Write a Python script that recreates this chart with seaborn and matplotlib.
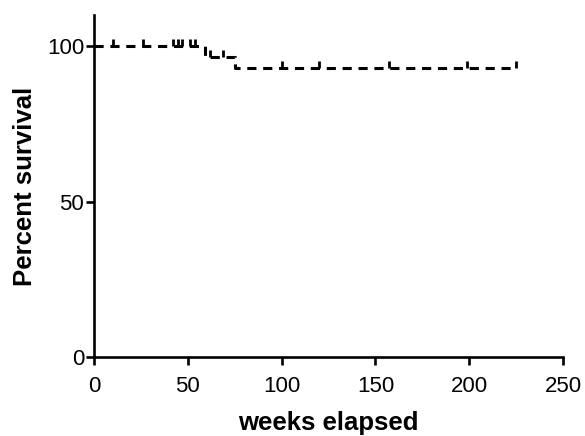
import numpy as np
import pandas as pd
import seaborn as sns
from matplotlib import pyplot as plt

# các bước của đường sống sót (tuần, %)
step_weeks = [0, 59, 75, 225]
step_surv = [100, 96.6, 93.1, 93.1]

# các điểm bị kiểm duyệt (censored)
censor_weeks = [10, 26, 42, 45, 47, 51, 54, 62, 69, 100, 120, 157, 199, 225]
censor_surv = [100, 100, 100, 100, 100, 100, 100, 96.6, 96.6, 93.1, 93.1, 93.1, 93.1, 93.1]

x_ticks = [0, 50, 100, 150, 200, 250]
y_ticks = [0, 50, 100]

sns.set_style('ticks')
plt.rcParams['font.family'] = ['Liberation Sans', 'DejaVu Sans']
plt.rcParams['text.color'] = 'black'
plt.rcParams['axes.labelcolor'] = 'black'
plt.rcParams['xtick.color'] = 'black'
plt.rcParams['ytick.color'] = 'black'
plt.rcParams['axes.edgecolor'] = 'black'

fig = plt.figure(figsize=(5.85, 4.36), dpi=100)
ax = fig.add_axes([0.1607, 0.1812, 0.8017, 0.7844])

steps = pd.DataFrame({'week': step_weeks, 'surv': step_surv})
sns.lineplot(data=steps, x='week', y='surv', drawstyle='steps-post',
             color='black', linewidth=2.2, ax=ax, dashes=False)
ax.lines[0].set_linestyle((0, (3, 2.2)))

cens = pd.DataFrame({'week': censor_weeks, 'surv': censor_surv})
sns.scatterplot(data=cens, x='week', y='surv', marker=2, s=22,
                color='black', linewidth=2.0, ax=ax)

ax.set_xlim(0, 250)
ax.set_ylim(0, 110)
ax.set_xticks(x_ticks)
ax.set_yticks(y_ticks)
ax.tick_params(axis='both', length=6, width=1.9, labelsize=16)
ax.tick_params(axis='x', pad=8)
ax.tick_params(axis='y', pad=1)
for s in ['left', 'bottom']:
    ax.spines[s].set_linewidth(1.9)
sns.despine(ax=ax)

ax.set_xlabel('weeks elapsed', fontsize=18.5, fontweight='bold', labelpad=10)
ax.set_ylabel('Percent survival', fontsize=18.5, fontweight='bold', labelpad=7.5)

plt.savefig('out.png', dpi=100)
plt.close(fig)
